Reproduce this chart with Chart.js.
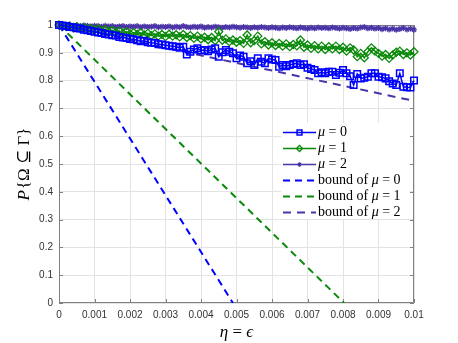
<!DOCTYPE html>
<html>
<head>
<meta charset="utf-8">
<script src="https://cdn.jsdelivr.net/npm/chart.js@4"></script>
<style>
  html, body { margin: 0; padding: 0; background: #fff; }
  #wrap { width: 458px; height: 343px; }
</style>
</head>
<body>
<div id="wrap"><canvas id="chart" width="458" height="343"></canvas></div>
<script>
// eta = epsilon sample points
const eta = [
  0, 0.0001, 0.0002, 0.0003, 0.0004, 0.0005, 0.0006, 0.0007, 0.0008, 0.0009,
  0.001, 0.0011, 0.0012, 0.0013, 0.0014, 0.0015, 0.0016, 0.0017, 0.0018, 0.0019,
  0.002, 0.0021, 0.0022, 0.0023, 0.0024, 0.0025, 0.0026, 0.0027, 0.0028, 0.0029,
  0.003, 0.0031, 0.0032, 0.0033, 0.0034, 0.0035, 0.0036, 0.0037, 0.0038, 0.0039,
  0.004, 0.0041, 0.0042, 0.0043, 0.0044, 0.0045, 0.0046, 0.0047, 0.0048, 0.0049,
  0.005, 0.0051, 0.0052, 0.0053, 0.0054, 0.0055, 0.0056, 0.0057, 0.0058, 0.0059,
  0.006, 0.0061, 0.0062, 0.0063, 0.0064, 0.0065, 0.0066, 0.0067, 0.0068, 0.0069,
  0.007, 0.0071, 0.0072, 0.0073, 0.0074, 0.0075, 0.0076, 0.0077, 0.0078, 0.0079,
  0.008, 0.0081, 0.0082, 0.0083, 0.0084, 0.0085, 0.0086, 0.0087, 0.0088, 0.0089,
  0.009, 0.0091, 0.0092, 0.0093, 0.0094, 0.0095, 0.0096, 0.0097, 0.0098, 0.0099,
  0.01
];

const mu0 = [
  1.000, 0.998, 0.996, 0.993, 0.992, 0.988, 0.987, 0.983, 0.981, 0.978,
  0.976, 0.973, 0.971, 0.968, 0.966, 0.963, 0.962, 0.957, 0.955, 0.953,
  0.950, 0.949, 0.945, 0.942, 0.943, 0.938, 0.936, 0.935, 0.931, 0.930,
  0.927, 0.925, 0.924, 0.922, 0.918, 0.922, 0.894, 0.904, 0.912, 0.916,
  0.908, 0.910, 0.906, 0.912, 0.916, 0.886, 0.902, 0.910, 0.904, 0.898,
  0.880, 0.890, 0.886, 0.862, 0.870, 0.856, 0.880, 0.868, 0.862, 0.880,
  0.876, 0.874, 0.850, 0.856, 0.852, 0.856, 0.860, 0.862, 0.856, 0.859,
  0.846, 0.842, 0.838, 0.826, 0.830, 0.826, 0.832, 0.832, 0.820, 0.828,
  0.838, 0.826, 0.816, 0.784, 0.824, 0.808, 0.810, 0.814, 0.826, 0.826,
  0.814, 0.812, 0.808, 0.798, 0.790, 0.784, 0.826, 0.778, 0.776, 0.775,
  0.800
];

const mu1 = [
  1.000, 0.998, 0.994, 0.997, 0.990, 0.994, 0.988, 0.991, 0.985, 0.988,
  0.982, 0.986, 0.979, 0.984, 0.976, 0.981, 0.974, 0.978, 0.970, 0.976,
  0.968, 0.973, 0.966, 0.972, 0.964, 0.970, 0.962, 0.968, 0.960, 0.966,
  0.958, 0.967, 0.960, 0.965, 0.957, 0.966, 0.955, 0.962, 0.952, 0.960,
  0.950, 0.956, 0.947, 0.955, 0.944, 0.976, 0.945, 0.950, 0.940, 0.946,
  0.938, 0.944, 0.934, 0.964, 0.936, 0.944, 0.960, 0.932, 0.940, 0.928,
  0.936, 0.926, 0.934, 0.924, 0.932, 0.922, 0.930, 0.925, 0.946, 0.920,
  0.928, 0.916, 0.926, 0.914, 0.924, 0.912, 0.922, 0.914, 0.924, 0.912,
  0.920, 0.906, 0.918, 0.910, 0.886, 0.898, 0.882, 0.904, 0.918, 0.906,
  0.898, 0.888, 0.894, 0.880, 0.892, 0.902, 0.906, 0.894, 0.900, 0.892,
  0.904
];

const mu2 = [
  1.000, 0.999, 0.998, 0.999, 0.997, 0.998, 0.996, 0.998, 0.997, 0.995,
  0.997, 0.996, 0.994, 0.997, 0.995, 0.996, 0.993, 0.995, 0.996, 0.993,
  0.995, 0.994, 0.996, 0.992, 0.995, 0.993, 0.994, 0.996, 0.992, 0.994,
  0.993, 0.995, 0.991, 0.994, 0.992, 0.996, 0.993, 0.991, 0.994, 0.992,
  0.995, 0.990, 0.993, 0.991, 0.994, 0.992, 0.990, 0.993, 0.991, 0.994,
  0.992, 0.990, 0.993, 0.991, 0.989, 0.992, 0.990, 0.993, 0.991, 0.989,
  0.992, 0.990, 0.988, 0.991, 0.989, 0.992, 0.990, 0.988, 0.991, 0.989,
  0.987, 0.990, 0.988, 0.991, 0.989, 0.990, 0.988, 0.991, 0.989, 0.987,
  0.990, 0.988, 0.986, 0.989, 0.987, 0.991, 0.993, 0.988, 0.990, 0.987,
  0.989, 0.985, 0.988, 0.984, 0.987, 0.983, 0.986, 0.989, 0.984, 0.987,
  0.983
];

// bounds: straight lines, end points only
const bound0X = [0, 0.0049];
const bound0Y = [1, 0];
const bound1X = [0, 0.00803];
const bound1Y = [1, 0];
const bound2X = [0, 0.01];
const bound2Y = [1, 0.727];

const xTicks = [0, 0.001, 0.002, 0.003, 0.004, 0.005, 0.006, 0.007, 0.008, 0.009, 0.01];
const xTickLabels = ["0", "0.001", "0.002", "0.003", "0.004", "0.005", "0.006", "0.007", "0.008", "0.009", "0.01"];
const yTicks = [0, 0.1, 0.2, 0.3, 0.4, 0.5, 0.6, 0.7, 0.8, 0.9, 1];
const yTickLabels = ["0", "0.1", "0.2", "0.3", "0.4", "0.5", "0.6", "0.7", "0.8", "0.9", "1"];

const seriesNames = ["μ = 0", "μ = 1", "μ = 2", "bound of μ = 0", "bound of μ = 1", "bound of μ = 2"];

const BLUE = "#0000ff";
const GREEN = "#0a8a0a";
const PURPLE = "#4b34a8";

const pts = (xs, ys) => xs.map((x, i) => ({ x, y: ys[i] }));

// box, inward ticks, axis titles
const boxPlugin = {
  id: "box",
  beforeDatasetsDraw(chart) {
    const { ctx, chartArea: a, scales } = chart;
    ctx.save();
    ctx.strokeStyle = "#808080";
    ctx.lineWidth = 1;
    ctx.beginPath();
    ctx.rect(a.left + 0.5, a.top + 0.5, a.right - a.left - 1, a.bottom - a.top - 1);
    xTicks.forEach((v) => {
      const px = Math.round(scales.x.getPixelForValue(v)) + 0.5;
      ctx.moveTo(px, a.bottom); ctx.lineTo(px, a.bottom - 4);
      ctx.moveTo(px, a.top); ctx.lineTo(px, a.top + 4);
    });
    yTicks.forEach((v) => {
      const py = Math.round(scales.y.getPixelForValue(v)) + 0.5;
      ctx.moveTo(a.left, py); ctx.lineTo(a.left + 4, py);
      ctx.moveTo(a.right, py); ctx.lineTo(a.right - 4, py);
    });
    ctx.stroke();
    ctx.restore();
  },
  afterDraw(chart) {
    const { ctx, chartArea: a } = chart;
    const serif = "17px 'Liberation Serif', 'DejaVu Serif', serif";
    const iserif = "italic " + serif;
    ctx.save();
    ctx.fillStyle = "#000";
    ctx.textBaseline = "middle";
    ctx.textAlign = "left";
    // x title: η = ϵ
    const cx = (a.left + a.right) / 2;
    ctx.font = iserif;
    const w1 = ctx.measureText("η").width;
    const w3 = ctx.measureText("ϵ").width;
    ctx.font = serif;
    const w2 = ctx.measureText(" = ").width;
    let x0 = cx - (w1 + w2 + w3) / 2;
    ctx.font = iserif;
    ctx.fillText("η", x0, 333);
    ctx.font = serif;
    ctx.fillText(" = ", x0 + w1, 333);
    ctx.font = iserif;
    ctx.fillText("ϵ", x0 + w1 + w2, 333);

    // y title: P{Ω ⊆ Γ}
    ctx.translate(25, (a.top + a.bottom) / 2);
    ctx.rotate(-Math.PI / 2);
    ctx.font = iserif;
    const p = ctx.measureText("P").width + 1;
    ctx.font = serif;
    const rest = "{Ω ⊆ Γ}";
    const rw = ctx.measureText(rest).width;
    x0 = -(p + rw) / 2;
    ctx.font = iserif;
    ctx.fillText("P", x0, 0);
    ctx.font = serif;
    ctx.fillText(rest, x0 + p, 0);
    ctx.restore();
  },
};

// legend inside the axes
const legendPlugin = {
  id: "innerLegend",
  afterDatasetsDraw(chart) {
    const { ctx } = chart;
    ctx.save();
    ctx.fillStyle = "#fff";
    ctx.fillRect(281, 123, 129, 96);
    const top = 132, step = 15.9;
    chart.data.datasets.forEach((ds, i) => {
      const y = Math.round(top + i * step) + 0.5;
      ctx.strokeStyle = ds.borderColor;
      ctx.lineWidth = ds.borderWidth;
      ctx.setLineDash(ds.borderDash || []);
      ctx.beginPath();
      ctx.moveTo(283, y);
      ctx.lineTo(316, y);
      ctx.stroke();
      ctx.setLineDash([]);
      if (ds.pointRadius > 0) {
        ctx.fillStyle = "rgba(0,0,0,0)";
        ctx.strokeStyle = ds.borderColor;
        ctx.lineWidth = ds.pointBorderWidth;
        Chart.helpers.drawPoint(ctx, {
          pointStyle: ds.pointStyle,
          rotation: 0,
          radius: ds.pointRadius * 0.75,
          borderWidth: ds.pointBorderWidth,
        }, 299.5, y);
      }
      // label: "bound of " + italic μ + " = n"
      const name = seriesNames[i];
      const k = name.indexOf("μ");
      let x = 318;
      ctx.fillStyle = "#000";
      ctx.textBaseline = "middle";
      ctx.textAlign = "left";
      ctx.font = "14px 'Liberation Serif', 'DejaVu Serif', serif";
      const pre = name.slice(0, k);
      ctx.fillText(pre, x, y);
      x += ctx.measureText(pre).width;
      ctx.font = "italic 14px 'Liberation Serif', 'DejaVu Serif', serif";
      ctx.fillText("μ", x, y);
      x += ctx.measureText("μ").width;
      ctx.font = "14px 'Liberation Serif', 'DejaVu Serif', serif";
      ctx.fillText(name.slice(k + 1), x, y);
    });
    ctx.restore();
  },
};

const tickFont = { family: "'Liberation Sans', Arial, sans-serif", size: 10 };

new Chart(document.getElementById("chart"), {
  type: "line",
  data: {
    datasets: [
      {
        label: seriesNames[0],
        data: pts(eta, mu0),
        borderColor: BLUE,
        borderWidth: 1.5,
        pointStyle: "rect",
        pointRadius: 4.6,
        pointBorderWidth: 1.5,
        pointBorderColor: BLUE,
        pointBackgroundColor: "rgba(0,0,0,0)",
        clip: 8,
      },
      {
        label: seriesNames[1],
        data: pts(eta, mu1),
        borderColor: GREEN,
        borderWidth: 1.5,
        pointStyle: "rectRot",
        pointRadius: 4,
        pointBorderWidth: 1.3,
        pointBorderColor: GREEN,
        pointBackgroundColor: "rgba(0,0,0,0)",
        clip: 8,
      },
      {
        label: seriesNames[2],
        data: pts(eta, mu2),
        borderColor: PURPLE,
        borderWidth: 1.5,
        pointStyle: "star",
        pointRadius: 3,
        pointBorderWidth: 1.2,
        pointBorderColor: PURPLE,
        pointBackgroundColor: "rgba(0,0,0,0)",
        clip: 8,
      },
      {
        label: seriesNames[3],
        data: pts(bound0X, bound0Y),
        borderColor: BLUE,
        borderWidth: 2,
        borderDash: [7, 5],
        pointRadius: 0,
      },
      {
        label: seriesNames[4],
        data: pts(bound1X, bound1Y),
        borderColor: GREEN,
        borderWidth: 2,
        borderDash: [7, 5],
        pointRadius: 0,
      },
      {
        label: seriesNames[5],
        data: pts(bound2X, bound2Y),
        borderColor: PURPLE,
        borderWidth: 2,
        borderDash: [8, 6],
        pointRadius: 0,
      },
    ],
  },
  options: {
    responsive: false,
    animation: false,
    devicePixelRatio: 1,
    layout: { padding: { top: 25, right: 44, left: 0, bottom: 0 } },
    plugins: {
      legend: { display: false },
      tooltip: { enabled: false },
    },
    scales: {
      x: {
        type: "linear",
        min: 0,
        max: 0.01,
        afterBuildTicks: (axis) => { axis.ticks = xTicks.map((v) => ({ value: v })); },
        afterFit: (scale) => { scale.height = 40; },
        ticks: {
          color: "#333",
          font: tickFont,
          padding: 6,
          maxRotation: 0,
          autoSkip: false,
          callback: (v, i) => xTickLabels[i],
        },
        grid: { color: "#e3e3e3", drawTicks: false },
        border: { display: false },
      },
      y: {
        min: 0,
        max: 1,
        afterBuildTicks: (axis) => { axis.ticks = yTicks.map((v) => ({ value: v })); },
        afterFit: (scale) => { scale.width = 59; },
        ticks: {
          color: "#333",
          font: tickFont,
          padding: 6,
          autoSkip: false,
          callback: (v, i) => yTickLabels[i],
        },
        grid: { color: "#e3e3e3", drawTicks: false },
        border: { display: false },
      },
    },
  },
  plugins: [boxPlugin, legendPlugin],
});
</script>
</body>
</html>
